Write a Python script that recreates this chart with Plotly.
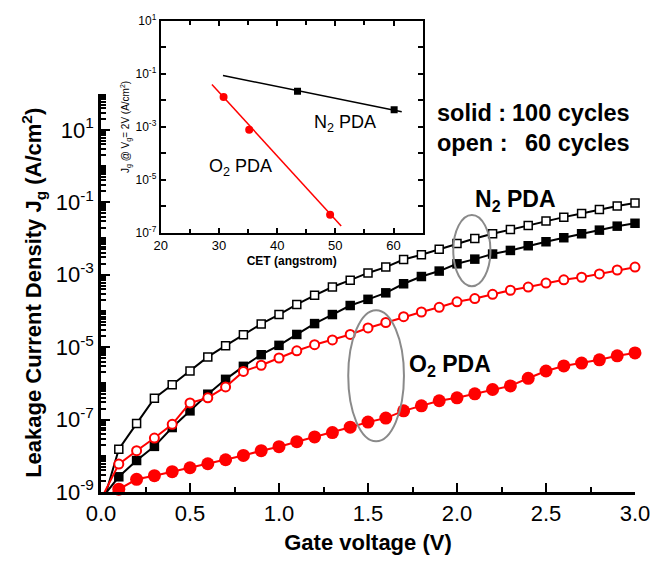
import plotly.graph_objects as go

# ---------------- data (main plot) ----------------
gate_v = [0.1, 0.2, 0.3, 0.4, 0.5, 0.6, 0.7, 0.8, 0.9, 1.0,
          1.1, 1.2, 1.3, 1.4, 1.5, 1.6, 1.7, 1.8, 1.9, 2.0,
          2.1, 2.2, 2.3, 2.4, 2.5, 2.6, 2.7, 2.8, 2.9, 3.0]

# N2 PDA, 60 cycles (open squares)
jg_n2_60 = [1.51e-8, 7.76e-8, 3.89e-7, 9.12e-7, 2.19e-6, 5.37e-6, 1.10e-5, 2.19e-5, 4.37e-5, 7.94e-5,
            1.51e-4, 2.69e-4, 4.57e-4, 7.08e-4, 1.12e-3, 1.62e-3, 2.63e-3, 3.55e-3, 5.01e-3, 7.24e-3,
            1.00e-2, 1.35e-2, 1.78e-2, 2.29e-2, 3.02e-2, 3.89e-2, 4.90e-2, 6.31e-2, 7.94e-2, 9.55e-2]
# N2 PDA, 100 cycles (solid squares)
jg_n2_100 = [2.63e-9, 7.41e-9, 1.82e-8, 6.03e-8, 1.74e-7, 5.01e-7, 1.29e-6, 2.95e-6, 6.17e-6, 1.12e-5,
             2.24e-5, 4.47e-5, 7.94e-5, 1.41e-4, 2.09e-4, 3.16e-4, 5.62e-4, 8.91e-4, 1.26e-3, 2.00e-3,
             2.69e-3, 3.72e-3, 4.68e-3, 6.31e-3, 8.13e-3, 1.05e-2, 1.35e-2, 1.70e-2, 2.19e-2, 2.63e-2]
# O2 PDA, 60 cycles (open circles)
jg_o2_60 = [5.89e-9, 1.38e-8, 3.09e-8, 7.41e-8, 2.88e-7, 3.98e-7, 7.94e-7, 2.14e-6, 3.16e-6, 5.01e-6,
            7.94e-6, 1.17e-5, 1.58e-5, 2.24e-5, 3.39e-5, 4.79e-5, 6.92e-5, 9.33e-5, 1.26e-4, 1.78e-4,
            2.19e-4, 2.88e-4, 3.72e-4, 4.57e-4, 5.89e-4, 7.24e-4, 8.51e-4, 1.05e-3, 1.35e-3, 1.62e-3]
# O2 PDA, 100 cycles (solid circles)
jg_o2_100 = [1.20e-9, 2.24e-9, 2.82e-9, 3.63e-9, 4.68e-9, 6.03e-9, 7.76e-9, 1.02e-8, 1.38e-8, 1.78e-8,
             2.45e-8, 3.31e-8, 4.37e-8, 6.17e-8, 8.51e-8, 1.10e-7, 1.74e-7, 2.40e-7, 3.31e-7, 3.98e-7,
             5.13e-7, 6.76e-7, 8.51e-7, 1.38e-6, 2.19e-6, 3.02e-6, 3.63e-6, 4.47e-6, 5.75e-6, 6.92e-6]

# value of each curve's line at 0 V (line starts below the axis)
lead_v = 0.0
lead_n2_60 = 3.2e-10
lead_n2_100 = 6.3e-10
lead_o2_60 = 6.3e-10
lead_o2_100 = 6.3e-10

y_tickvals = [1e-9, 1e-7, 1e-5, 1e-3, 1e-1, 1e1]
y_ticktext = ["10<sup>-9</sup>", "10<sup>-7</sup>", "10<sup>-5</sup>",
              "10<sup>-3</sup>", "10<sup>-1</sup>", "10<sup>1</sup>"]
x_tickvals = [0.0, 0.5, 1.0, 1.5, 2.0, 2.5, 3.0]
x_ticktext = ["0.0", "0.5", "1.0", "1.5", "2.0", "2.5", "3.0"]

# ---------------- data (inset) ----------------
cet_n2 = [43.5, 60.1]
jg2v_n2 = [2.2e-2, 4.4e-3]
cet_o2 = [30.8, 35.2, 49.1]
jg2v_o2 = [1.35e-2, 7.8e-4, 4.8e-7]
fit_cet_n2 = [30.7, 61.4]
fit_jg_n2 = [8.7e-2, 3.7e-3]
fit_cet_o2 = [28.8, 51.0]
fit_jg_o2 = [4.0e-2, 1.8e-7]

in_y_tickvals = [1e-7, 1e-5, 1e-3, 1e-1, 1e1]
in_y_ticktext = ["10<sup>-7</sup>", "10<sup>-5</sup>", "10<sup>-3</sup>",
                 "10<sup>-1</sup>", "10<sup>1</sup>"]
in_x_tickvals = [20, 30, 40, 50, 60]
in_x_ticktext = ["20", "30", "40", "50", "60"]

# ---------------- figure ----------------
FONT = "Liberation Sans, Arial, Helvetica, sans-serif"
RED = "#ff0000"
BLACK = "#000000"

fig = go.Figure()


def add_series(vals, lead, symbol, edge, fill, size, lw):
    fig.add_trace(go.Scatter(x=[lead_v] + gate_v, y=[lead] + vals, mode="lines",
                             line=dict(color=edge, width=2), showlegend=False,
                             hoverinfo="skip", xaxis="x", yaxis="y"))
    fig.add_trace(go.Scatter(x=gate_v, y=vals, mode="markers",
                             marker=dict(symbol=symbol, size=size, color=fill,
                                         line=dict(color=edge, width=lw)),
                             showlegend=False, xaxis="x", yaxis="y", cliponaxis=False))


add_series(jg_n2_100, lead_n2_100, "square", BLACK, BLACK, 9.5, 0)
add_series(jg_n2_60, lead_n2_60, "square", BLACK, "white", 8, 1.5)
add_series(jg_o2_100, lead_o2_100, "circle", RED, RED, 13, 0)
add_series(jg_o2_60, lead_o2_60, "circle", RED, "white", 9, 2)

# inset
fig.add_trace(go.Scatter(x=fit_cet_n2, y=fit_jg_n2, mode="lines", line=dict(color=BLACK, width=1.5),
                         showlegend=False, xaxis="x2", yaxis="y2", hoverinfo="skip"))
fig.add_trace(go.Scatter(x=cet_n2, y=jg2v_n2, mode="markers",
                         marker=dict(symbol="square", size=7, color=BLACK),
                         showlegend=False, xaxis="x2", yaxis="y2"))
fig.add_trace(go.Scatter(x=fit_cet_o2, y=fit_jg_o2, mode="lines", line=dict(color=RED, width=1.5),
                         showlegend=False, xaxis="x2", yaxis="y2", hoverinfo="skip"))
fig.add_trace(go.Scatter(x=cet_o2, y=jg2v_o2, mode="markers",
                         marker=dict(symbol="circle", size=8, color=RED),
                         showlegend=False, xaxis="x2", yaxis="y2"))

axis_common = dict(showgrid=False, zeroline=False, showline=True, linecolor=BLACK,
                   ticks="inside", tickcolor=BLACK)

fig.update_layout(
    width=663, height=564,
    margin=dict(l=101, r=28, t=16, b=72, pad=0),
    paper_bgcolor="white", plot_bgcolor="white",
    font=dict(family=FONT, color=BLACK),
    xaxis=dict(**axis_common, domain=[0, 1], range=[0, 3], anchor="y",
               tickmode="array", tickvals=x_tickvals, ticktext=x_ticktext,
               ticklen=9, tickwidth=2, linewidth=2.5,
               tickfont=dict(family=FONT, size=22, color=BLACK),
               minor=dict(tick0=0, dtick=0.25, ticks="inside", ticklen=5, tickwidth=2, tickcolor=BLACK),
               title=dict(text="Gate voltage (V)", standoff=10,
                          font=dict(family=FONT, size=22, color=BLACK, weight="bold"))),
    yaxis=dict(**axis_common, type="log", domain=[0, 0.8458], range=[-9, 2], anchor="x",
               tickmode="array", tickvals=y_tickvals, ticktext=y_ticktext,
               ticklen=9, tickwidth=2, linewidth=2.5,
               tickfont=dict(family=FONT, size=22, color=BLACK),
               minor=dict(dtick="D1", ticks="inside", ticklen=5, tickwidth=1.5, tickcolor=BLACK),
               title=dict(text="Leakage Current Density J<sub>g</sub> (A/cm<sup>2</sup>)", standoff=8,
                          font=dict(family=FONT, size=22, color=BLACK, weight="bold"))),
    xaxis2=dict(**axis_common, domain=[0.1118, 0.6024], range=[20, 65], anchor="y2",
                mirror="ticks", linewidth=2, ticklen=5, tickwidth=1.5,
                tickmode="array", tickvals=in_x_tickvals, ticktext=in_x_ticktext,
                tickfont=dict(family=FONT, size=13, color=BLACK),
                minor=dict(tick0=20, dtick=5, ticks="inside", ticklen=4, tickwidth=1.5, tickcolor=BLACK),
                title=dict(text="CET (angstrom)", standoff=4,
                           font=dict(family=FONT, size=12, color=BLACK, weight="bold"))),
    yaxis2=dict(**axis_common, type="log", domain=[0.5504, 1.0], range=[-7, 1], anchor="x2",
                mirror="ticks", linewidth=2, ticklen=5, tickwidth=1.5,
                tickmode="array", tickvals=in_y_tickvals, ticktext=in_y_ticktext,
                tickfont=dict(family=FONT, size=12, color=BLACK),
                minor=dict(tickmode="array", tickvals=[1e-6, 1e-4, 1e-2, 1e0],
                           ticks="inside", ticklen=5, tickwidth=1.5, tickcolor=BLACK),
                title=dict(text="J<sub>g</sub> @ V<sub>g</sub>= 2V (A/cm<sup>2</sup>)", standoff=4,
                           font=dict(family=FONT, size=10, color=BLACK))),
)

ann_font_big = dict(family=FONT, size=23.5, color=BLACK, weight="bold")
annotations = [
    dict(text="solid :", x=1.878, y=1.464, xanchor="left"),
    dict(text="100 cycles", x=2.985, y=1.464, xanchor="right"),
    dict(text="open :", x=1.878, y=0.631, xanchor="left"),
    dict(text="60 cycles", x=2.985, y=0.631, xanchor="right"),
    dict(text="N<sub>2</sub> PDA", x=2.330, y=-0.94, xanchor="center", size=23),
    dict(text="O<sub>2</sub> PDA", x=1.962, y=-5.50, xanchor="center", size=23),
]
for a in annotations:
    f = dict(ann_font_big)
    if "size" in a:
        f["size"] = a.pop("size")
    fig.add_annotation(xref="x", yref="y", yanchor="middle", showarrow=False, font=f, **a)

fig.add_annotation(text="N<sub>2</sub> PDA", xref="x2", yref="y2", x=51.74, y=-2.856,
                   showarrow=False, font=dict(family=FONT, size=18, color=BLACK))
fig.add_annotation(text="O<sub>2</sub> PDA", xref="x2", yref="y2", x=33.7, y=-4.536,
                   showarrow=False, font=dict(family=FONT, size=18, color=BLACK))

# gray ellipses grouping the curves
fig.add_shape(type="circle", xref="x", yref="y", x0=1.979, x1=2.188,
              y0=10 ** -3.317, y1=10 ** -1.350, line=dict(color="#8a8a8a", width=2))
fig.add_shape(type="circle", xref="x", yref="y", x0=1.389, x1=1.702,
              y0=10 ** -7.598, y1=10 ** -3.981, line=dict(color="#8a8a8a", width=2))

fig.write_html("out.html")
